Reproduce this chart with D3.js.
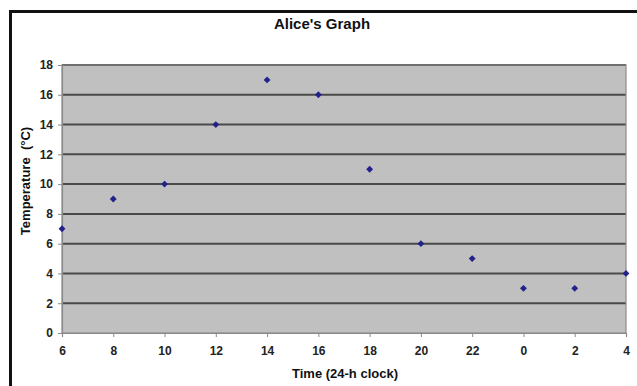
<!DOCTYPE html>
<html><head><meta charset="utf-8">
<script src="https://cdn.jsdelivr.net/npm/d3@7/dist/d3.min.js"></script>
<style>
html,body{margin:0;padding:0;background:#fff;}
svg{display:block;font-family:"Liberation Sans",Arial,sans-serif;}
</style></head>
<body>
<svg id="chart" width="637" height="386"></svg>
<script>
const categories = ["6","8","10","12","14","16","18","20","22","0","2","4"];
const temperatures = [7,9,10,14,17,16,11,6,5,3,3,4];
const yTicks = [0,2,4,6,8,10,12,14,16,18];
const title = "Alice's Graph";
const xTitle = "Time (24-h clock)";
const yTitle = "Temperature  (°C)";

const svg = d3.select("#chart");
const m = {left:62, right:626, top:65, bottom:333};

// outer frame (cut off at right and bottom)
svg.append("path").attr("d","M10.5,400 V11.5 H650").attr("fill","none").attr("stroke","#111").attr("stroke-width",3);

const x = d3.scalePoint().domain(categories).range([m.left, m.right]);
const y = d3.scaleLinear().domain([0,18]).range([m.bottom, m.top]);

svg.append("rect").attr("x",m.left).attr("y",m.top).attr("width",m.right-m.left).attr("height",m.bottom-m.top)
  .attr("fill","#c0c0c0");

// gridlines
svg.append("g").selectAll("line").data(yTicks.filter(d=>d>0)).join("line")
  .attr("x1",m.left).attr("x2",m.right).attr("y1",d=>y(d)).attr("y2",d=>y(d))
  .attr("stroke","#4a4a4a").attr("stroke-width",2);

svg.append("rect").attr("x",m.left).attr("y",m.top).attr("width",m.right-m.left).attr("height",m.bottom-m.top)
  .attr("fill","none").attr("stroke","#8a8a8a").attr("stroke-width",1.2);

// axes
const yAxis = svg.append("g").attr("transform",`translate(${m.left},0)`)
  .call(d3.axisLeft(y).tickValues(yTicks).tickSize(4).tickPadding(5));
const xAxis = svg.append("g").attr("transform",`translate(0,${m.bottom})`)
  .call(d3.axisBottom(x).tickSize(4).tickPadding(9));
[yAxis,xAxis].forEach(a=>{
  a.select(".domain").attr("stroke","#8a8a8a").attr("stroke-width",1.2);
  a.selectAll(".tick line").attr("stroke","#8a8a8a");
  a.selectAll("text").attr("font-size",12).attr("font-weight","bold").attr("fill","#222")
   .attr("font-family","'Liberation Sans',Arial,sans-serif");
});

// points
svg.append("g").selectAll("path").data(temperatures).join("path")
  .attr("d", d3.symbol().type(d3.symbolDiamond2).size(30))
  .attr("transform",(d,i)=>`translate(${x(categories[i])},${y(d)})`)
  .attr("fill","#22228a");

// titles
svg.append("text").attr("x",322).attr("y",29).attr("text-anchor","middle")
  .attr("font-size",15).attr("font-weight","bold").attr("fill","#111").text(title);
svg.append("text").attr("x",345).attr("y",378).attr("text-anchor","middle")
  .attr("font-size",13).attr("font-weight","bold").attr("fill","#111").text(xTitle);
svg.append("text").attr("transform","translate(30,181) rotate(-90)").attr("text-anchor","middle")
  .attr("font-size",13).attr("font-weight","bold").attr("fill","#111").attr("xml:space","preserve").text(yTitle);
</script>
</body></html>
